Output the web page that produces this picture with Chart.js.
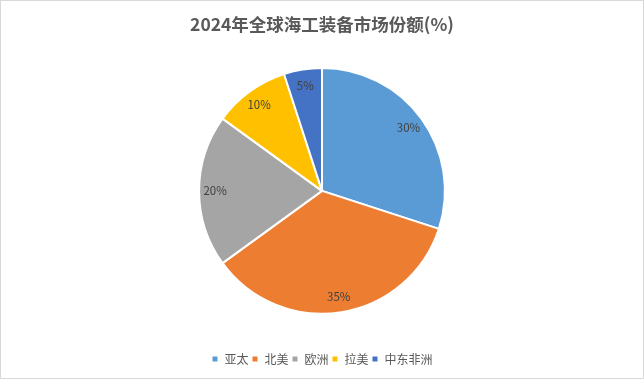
<!DOCTYPE html>
<html lang="zh">
<head>
  <meta charset="UTF-8">
  <title>2024年全球海工装备市场份额</title>
  <script src="https://cdn.jsdelivr.net/npm/chart.js"></script>
  <style>
    html, body { margin: 0; padding: 0; background: #fff; }
    .marco { width: 642px; height: 377px; border: 1px solid #d9d9d9; }
  </style>
</head>
<body>
  <div class="marco">
    <canvas id="grafica" width="642" height="377"></canvas>
  </div>

  <script>
    const regiones = ['亚太', '北美', '欧洲', '拉美', '中东非洲'];
    const cuotas = [30, 35, 20, 10, 5];
    const colores = ['#5B9BD5', '#ED7D31', '#A5A5A5', '#FFC000', '#4472C4'];
    const fuente = '"Noto Sans CJK SC", "Microsoft YaHei", sans-serif';

    // etiquetas de porcentaje dentro de cada sector
    const etiquetas = {
      id: 'etiquetas',
      afterDatasetsDraw(chart) {
        const ctx = chart.ctx;
        const meta = chart.getDatasetMeta(0);
        ctx.save();
        ctx.font = '11.5px ' + fuente;
        ctx.fillStyle = '#404040';
        ctx.textAlign = 'center';
        ctx.textBaseline = 'middle';
        meta.data.forEach((arco, i) => {
          const p = arco.getProps(['x', 'y', 'startAngle', 'endAngle', 'outerRadius'], true);
          const medio = (p.startAngle + p.endAngle) / 2;
          const r = p.outerRadius * 0.87;
          ctx.fillText(cuotas[i] + '%', p.x + Math.cos(medio) * r, p.y + Math.sin(medio) * r);
        });
        ctx.restore();
      }
    };

    const grafica = new Chart(document.getElementById('grafica'), {
      type: 'pie',
      data: {
        labels: regiones,
        datasets: [{
          data: cuotas,
          backgroundColor: colores,
          borderColor: '#ffffff',
          borderWidth: 2
        }]
      },
      options: {
        responsive: false,
        animation: false,
        layout: { padding: { bottom: 3 } },
        plugins: {
          title: {
            display: true,
            text: '2024年全球海工装备市场份额(%)',
            color: '#595959',
            font: { family: fuente, size: 17.5, weight: 'bold' },
            padding: { top: 13, bottom: 32 }
          },
          legend: {
            position: 'bottom',
            // titulo vacio para bajar la leyenda
            title: { display: true, text: ' ', font: { size: 1 }, padding: { top: 0, bottom: 34 } },
            labels: {
              boxWidth: 7,
              boxHeight: 7,
              padding: 3,
              color: '#595959',
              font: { family: fuente, size: 12 }
            }
          },
          tooltip: { enabled: false }
        }
      },
      plugins: [etiquetas]
    });
  </script>
</body>
</html>
